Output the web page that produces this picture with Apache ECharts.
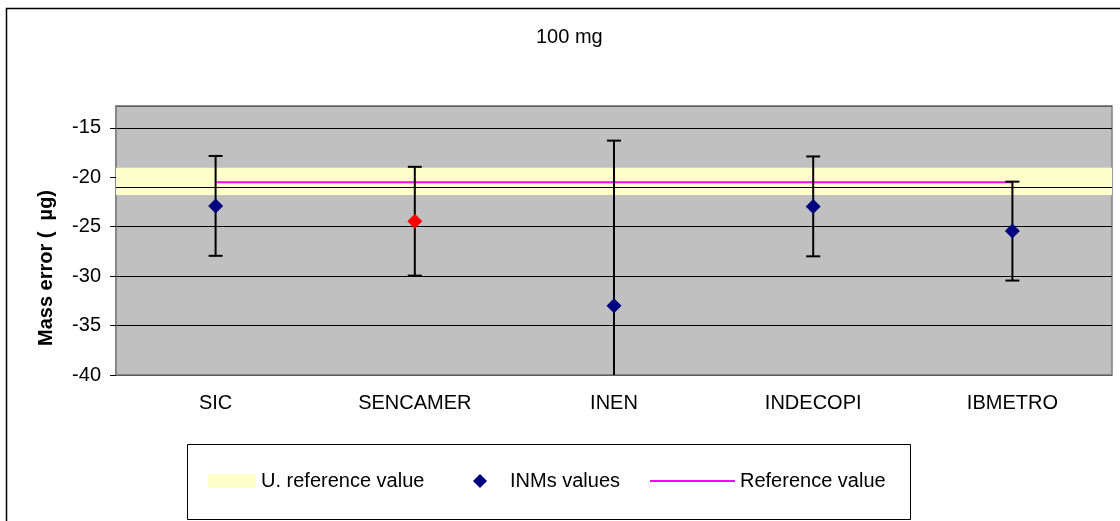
<!DOCTYPE html>
<html>
<head>
<meta charset="utf-8">
<script src="https://cdn.jsdelivr.net/npm/echarts@6/dist/echarts.min.js"></script>
<style>
html,body{margin:0;padding:0;background:#fff;}
#chart{width:1120px;height:521px;}
</style>
</head>
<body>
<div id="chart"></div>
<script>
// ---- data ----
const chartTitle = '100 mg';
const yAxisTitle = 'Mass error (  \u00b5g)';
const categories = ['SIC', 'SENCAMER', 'INEN', 'INDECOPI', 'IBMETRO'];
const inmValues = [-22.9, -24.45, -33.0, -22.95, -25.45];
const inmUncertainty = [5.05, 5.5, 16.7, 5.05, 5.0];
const highlighted = 'SENCAMER';
const referenceValue = -20.5;
const refBandTop = -19.05;
const refBandBottom = -21.8;
const lowerRefLine = -21.05;
const yMin = -40, yMax = -12.8, yStep = 5;

const FONT = 'Liberation Sans, Arial, sans-serif';

const chart = echarts.init(document.getElementById('chart'));

const scatterData = inmValues.map((v, i) =>
  categories[i] === highlighted ? { value: v, itemStyle: { color: '#FF0000' } } : v);
const errData = inmValues.map((v, i) => [i, v - inmUncertainty[i], v + inmUncertainty[i]]);
const refData = categories.map(() => referenceValue);

const legendBase = {
  orient: 'horizontal', top: 471, padding: 0, selectedMode: false,
  textStyle: { fontFamily: FONT, fontSize: 20, color: '#000' }
};

chart.setOption({
  animation: false,
  backgroundColor: '#fff',
  title: {
    text: chartTitle, left: 536, top: 27, padding: 0,
    textStyle: { fontFamily: FONT, fontSize: 20, fontWeight: 'normal', color: '#000' }
  },
  grid: {
    left: 116, right: 8, top: 106, bottom: 146,
    show: true, backgroundColor: '#C0C0C0', borderColor: '#808080', borderWidth: 1.5
  },
  legend: [
    Object.assign({}, legendBase, {
      left: 208, itemWidth: 48, itemHeight: 14,
      data: [{ name: 'U. reference value', icon: 'rect' }]
    }),
    Object.assign({}, legendBase, {
      left: 473, itemWidth: 14, itemHeight: 14,
      data: [{ name: 'INMs values', icon: 'diamond', itemStyle: { color: '#000080', opacity: 1 } }],
      textStyle: { fontFamily: FONT, fontSize: 20, color: '#000', padding: [0, 0, 0, 18] }
    }),
    Object.assign({}, legendBase, {
      left: 650, itemWidth: 85, itemHeight: 2,
      data: [{ name: 'Reference value', icon: 'rect', itemStyle: { color: '#FF00FF' } }]
    })
  ],
  xAxis: {
    type: 'category', data: categories, boundaryGap: true,
    axisLine: { show: true, lineStyle: { color: '#808080', width: 1.5 } },
    axisTick: { show: false },
    axisLabel: { margin: 18, fontFamily: FONT, fontSize: 20, color: '#000' },
    splitLine: { show: false }
  },
  yAxis: {
    type: 'value', min: yMin, max: yMax, interval: yStep,
    name: yAxisTitle, nameLocation: 'middle', nameGap: 60,
    nameTextStyle: { fontFamily: FONT, fontSize: 20, fontWeight: 'bold', color: '#000', padding: [0, 55, 0, 0] },
    axisLine: { show: true, lineStyle: { color: '#808080', width: 1.5 } },
    axisTick: { show: true, inside: false, length: 6, lineStyle: { color: '#000' } },
    axisLabel: { margin: 15, fontFamily: FONT, fontSize: 20, color: '#000', showMaxLabel: false },
    splitLine: { show: true, lineStyle: { color: '#000', width: 1 } }
  },
  graphic: [
    { type: 'rect', shape: { x: 6.5, y: 8.5, width: 1300, height: 700 },
      style: { fill: 'none', stroke: '#000', lineWidth: 1.5 }, silent: true, z: -1 },
    { type: 'rect', shape: { x: 187.5, y: 444.5, width: 723, height: 75 },
      style: { fill: 'none', stroke: '#000', lineWidth: 1 }, silent: true, z: -1 },
    { type: 'line', shape: { x1: 116, y1: 106, x2: 1112, y2: 106 },
      style: { stroke: '#808080', lineWidth: 1.5 }, silent: true, z: 10 }
  ],
  series: [
    {
      name: 'U. reference value', type: 'line', data: [], z: 1,
      itemStyle: { color: '#FFFFCC' }, lineStyle: { color: '#FFFFCC' },
      markArea: {
        silent: true,
        itemStyle: { color: '#FFFFCC', opacity: 1 },
        data: [[{ yAxis: refBandTop }, { yAxis: refBandBottom }]]
      },
      markLine: {
        silent: true, symbol: 'none', label: { show: false },
        lineStyle: { color: '#000', width: 1, type: 'solid' },
        data: [{ yAxis: lowerRefLine }]
      }
    },
    {
      name: 'Reference value', type: 'line', data: refData, z: 3,
      symbol: 'none', showSymbol: false,
      lineStyle: { color: '#FF00FF', width: 2 }, itemStyle: { color: '#FF00FF' }
    },
    {
      name: 'error', type: 'custom', data: errData, z: 4, clip: true,
      renderItem: function (params, api) {
        const x = api.value(0);
        const lo = api.coord([x, api.value(1)]);
        const hi = api.coord([x, api.value(2)]);
        const cap = 7;
        const st = { stroke: '#000', lineWidth: 2 };
        return {
          type: 'group',
          children: [
            { type: 'line', shape: { x1: hi[0], y1: hi[1], x2: lo[0], y2: lo[1] }, style: st },
            { type: 'line', shape: { x1: hi[0] - cap, y1: hi[1], x2: hi[0] + cap, y2: hi[1] }, style: st },
            { type: 'line', shape: { x1: lo[0] - cap, y1: lo[1], x2: lo[0] + cap, y2: lo[1] }, style: st }
          ]
        };
      }
    },
    {
      name: 'INMs values', type: 'scatter', data: scatterData, z: 5,
      symbol: 'diamond', symbolSize: 15,
      itemStyle: { color: '#000080', opacity: 1 }
    }
  ]
});
</script>
</body>
</html>
